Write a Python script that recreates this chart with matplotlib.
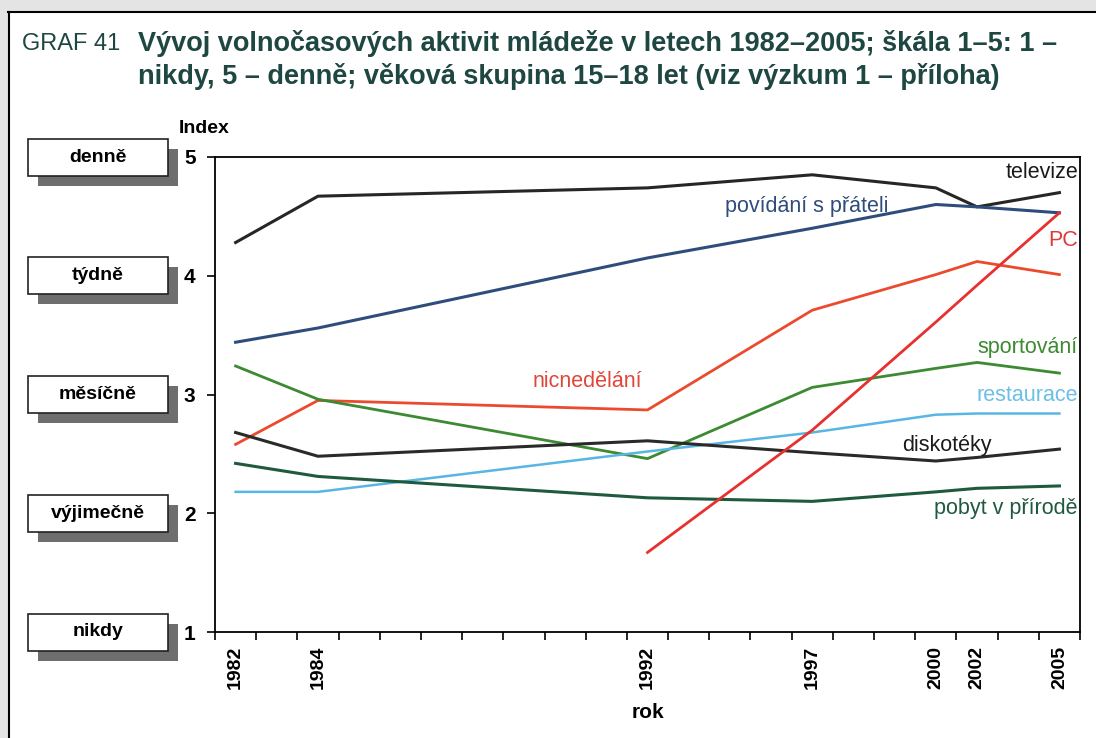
import matplotlib
matplotlib.use("Agg")
import matplotlib.pyplot as plt
import matplotlib.transforms as mtransforms
from matplotlib.patches import Rectangle

# data -------------------------------------------------------------
years = ["1982", "1984", "1992", "1997", "2000", "2002", "2005"]
slots = [0, 2, 10, 14, 17, 18, 20]   # position on the 21-slot category axis

televize = [4.28, 4.67, 4.74, 4.85, 4.74, 4.58, 4.70]
povidani = [3.44, 3.56, 4.15, 4.40, 4.60, 4.58, 4.53]
nicnedelani = [2.58, 2.95, 2.87, 3.71, 4.01, 4.12, 4.01]
sportovani = [3.24, 2.96, 2.46, 3.06, 3.22, 3.27, 3.18]
restaurace = [2.18, 2.18, 2.52, 2.68, 2.83, 2.84, 2.84]
diskoteky = [2.68, 2.48, 2.61, 2.51, 2.44, 2.47, 2.54]
pobyt = [2.42, 2.31, 2.13, 2.10, 2.18, 2.21, 2.23]
pc_slots = [10, 14, 17, 18, 20]
pc = [1.67, 2.70, 3.61, 3.92, 4.53]

levels = [5, 4, 3, 2, 1]
level_names = ["denně", "týdně", "měsíčně", "výjimečně", "nikdy"]

title_txt = ("Vývoj volnočasových aktivit mládeže v letech 1982–2005; škála 1–5: 1 –\n"
             "nikdy, 5 – denně; věková skupina 15–18 let (viz výzkum 1 – příloha)")

plt.rcParams['font.family'] = ['Liberation Sans', 'DejaVu Sans']

fig = plt.figure(figsize=(10.96, 7.38), dpi=100)
W, H = 1096, 738

# page frame with shadow
fig.add_artist(Rectangle((0, 1 - 11 / H), 1, 11 / H, transform=fig.transFigure,
                         facecolor="#e4e4e4", edgecolor="none"))
fig.add_artist(Rectangle((0, 0), 8 / W, 1, transform=fig.transFigure,
                         facecolor="#e4e4e4", edgecolor="none"))
fig.add_artist(plt.Line2D([8 / W, 1], [1 - 12 / H, 1 - 12 / H], transform=fig.transFigure,
                          color="black", lw=1.5))
fig.add_artist(plt.Line2D([9 / W, 9 / W], [0, 1 - 12 / H], transform=fig.transFigure,
                          color="black", lw=1.5))

tcol = "#1f4742"
fig.text(22 / W, 1 - 44 / H, "GRAF 41", fontsize=17, color=tcol, va="center")
fig.text(138 / W, 1 - 60 / H, title_txt, fontsize=19.5, color=tcol, weight="bold",
         va="center", linespacing=1.3)

ax = fig.add_axes([215 / W, 1 - 632 / H, 865 / W, 475 / H])

ax.plot(slots, televize, color="#262626", lw=2.2)
ax.plot(slots, povidani, color="#2f4d7c", lw=2.2)
ax.plot(slots, nicnedelani, color="#ec4a2e", lw=2.0)
ax.plot(slots, sportovani, color="#3c8a31", lw=2.0)
ax.plot(slots, restaurace, color="#58b6e2", lw=1.8)
ax.plot(slots, diskoteky, color="#2a2a2a", lw=2.2)
ax.plot(slots, pobyt, color="#1f5a3e", lw=2.2)
ax.plot(pc_slots, pc, color="#e8302e", lw=2.0)

lab = dict(fontsize=15.5)
ax.text(20.45, 4.87, "televize", color="#1a1a1a", ha="right", va="center", **lab)
ax.text(13.87, 4.58, "povídání s přáteli", color="#2f4d7c", ha="center", va="center", **lab)
ax.text(20.45, 4.30, "PC", color="#e03a36", ha="right", va="center", **lab)
ax.text(8.53, 3.11, "nicnedělání", color="#e0463a", ha="center", va="center", **lab)
ax.text(20.45, 3.40, "sportování", color="#3c8a31", ha="right", va="center", **lab)
ax.text(20.45, 2.99, "restaurace", color="#6cbfe6", ha="right", va="center", **lab)
ax.text(17.27, 2.57, "diskotéky", color="#1a1a1a", ha="center", va="center", **lab)
ax.text(20.45, 2.04, "pobyt v přírodě", color="#1f5a3e", ha="right", va="center", **lab)

ax.set_xlim(-0.5, 20.5)
ax.set_ylim(1, 5)
ax.set_yticks(levels)
ax.set_yticklabels([str(v) for v in levels], fontsize=15, weight="bold")
ax.tick_params(axis="y", direction="out", length=6, width=1.2, pad=8)
ax.set_xticks(slots)
ax.set_xticklabels(years, rotation=90, fontsize=14, weight="bold")
ax.set_xticks([k - 0.5 for k in range(22)], minor=True)
ax.tick_params(axis="x", which="major", length=0, pad=10)
ax.tick_params(axis="x", which="minor", direction="out", length=6, width=1.2)
for s in ax.spines.values():
    s.set_linewidth(1.3)
ax.set_xlabel("rok", fontsize=15, weight="bold", labelpad=10)
ax.text(-0.012, 5.24, "Index", fontsize=14, weight="bold", ha="center", va="center",
        transform=mtransforms.blended_transform_factory(ax.transAxes, ax.transData))

# level boxes on the left
blend = mtransforms.blended_transform_factory(fig.transFigure, ax.transData)
bh = 37 / 118.75
off = 10 / 118.75
for v, name in zip(levels, level_names):
    fig.add_artist(Rectangle((38 / W, v - bh / 2 - off), 140 / W, bh, transform=blend,
                             facecolor="#6e6e6e", edgecolor="none"))
    fig.add_artist(Rectangle((28 / W, v - bh / 2), 140 / W, bh, transform=blend,
                             facecolor="white", edgecolor="#222222", lw=1.2))
    fig.text(98 / W, v, name, transform=blend, ha="center", va="center",
             fontsize=14, weight="bold")

fig.savefig("out.png", dpi=100)
